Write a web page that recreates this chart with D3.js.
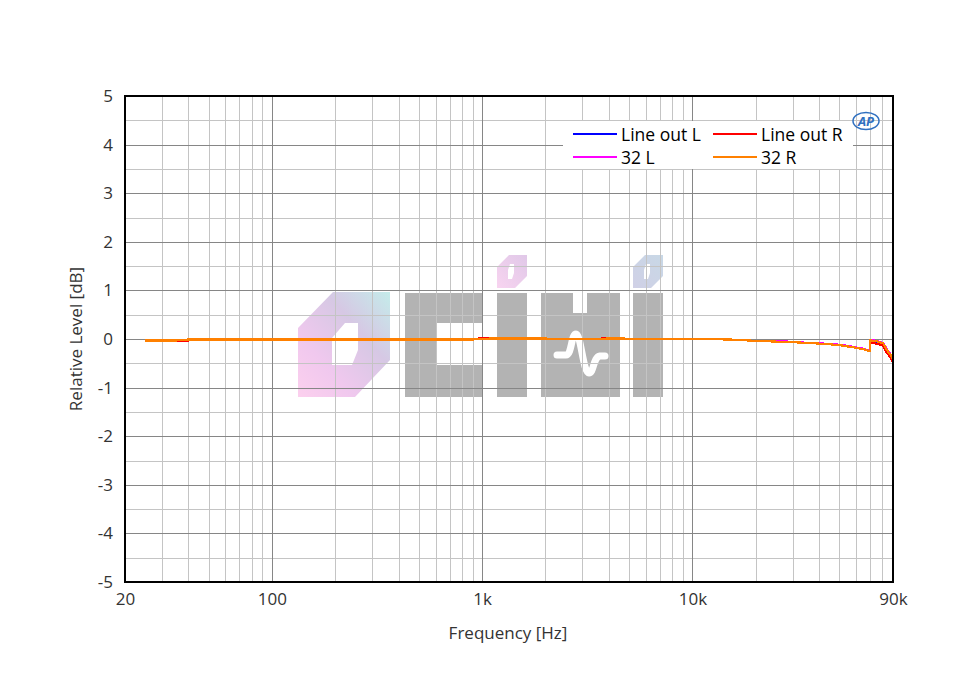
<!DOCTYPE html>
<html><head><meta charset="utf-8">
<script src="https://cdn.jsdelivr.net/npm/d3@7"></script>
<style>body{margin:0;background:#fff}svg text{font-family:"Open Sans","Noto Sans",sans-serif}</style>
</head><body>
<svg id="c" width="960" height="680"></svg>
<script>
// ---- data ----
const freqs = [25,30,35,40,50,100,200,500,900,1000,1100,2000,2200,3500,4000,4500,6000,10000,15000,20300,27600,35500,45200,50700,58100,64900,70000,70300,75700,80800,84100,88800,90000];
const lineOutL = [-0.03,-0.03,-0.04,-0.02,-0.01,-0.01,-0.01,-0.01,-0.01,0.01,0.01,0.01,0.0,0.0,0.01,0.01,0.0,0.0,-0.01,-0.04,-0.06,-0.08,-0.11,-0.13,-0.17,-0.21,-0.25,-0.06,-0.09,-0.12,-0.26,-0.40,-0.46];
const lineOutR = [-0.03,-0.03,-0.05,-0.03,-0.01,-0.01,-0.01,-0.01,-0.01,0.02,0.01,0.01,0.0,0.0,0.02,0.01,0.0,0.0,-0.01,-0.04,-0.06,-0.08,-0.11,-0.13,-0.17,-0.21,-0.25,-0.07,-0.10,-0.14,-0.28,-0.42,-0.48];
const s32L = [-0.03,-0.03,-0.03,-0.01,-0.01,-0.01,-0.01,-0.01,-0.01,0.0,0.01,0.01,0.0,0.0,0.01,0.01,0.0,0.0,-0.01,-0.04,-0.05,-0.08,-0.10,-0.12,-0.16,-0.20,-0.24,-0.02,-0.04,-0.08,-0.21,-0.35,-0.42];
const s32R = [-0.03,-0.03,-0.03,-0.01,-0.01,-0.01,-0.01,-0.01,-0.01,0.0,0.01,0.01,0.0,0.0,0.01,0.01,0.0,0.0,-0.01,-0.04,-0.06,-0.08,-0.11,-0.13,-0.17,-0.21,-0.25,-0.03,-0.05,-0.09,-0.22,-0.36,-0.43];
const seriesNames = ["Line out L","Line out R","32 L","32 R"];
const seriesColors = ["#0000ff","#ff0000","#ff00ff","#ff8000"];
const xTickVals = [20,100,1000,10000,90000];
const xTickLabels = ["20","100","1k","10k","90k"];
const yTickVals = [5,4,3,2,1,0,-1,-2,-3,-4,-5];

const svg = d3.select("#c");
const L=125,R=893,T=96,B=582;
const x = d3.scaleLog().domain([20,90000]).range([L,R]);
const y = d3.scaleLinear().domain([-5,5]).range([B,T]);

// ---- watermark ----
const wm = svg.append("g");
const defs = svg.append("defs");
const g1 = defs.append("linearGradient").attr("id","wg1").attr("x1","0").attr("y1","1").attr("x2","1").attr("y2","0");
g1.append("stop").attr("offset","0").attr("stop-color","#fcd0ee");
g1.append("stop").attr("offset","0.3").attr("stop-color","#f0c8ee");
g1.append("stop").attr("offset","0.65").attr("stop-color","#d6c8e4");
g1.append("stop").attr("offset","1").attr("stop-color","#c4ecea");
const g2 = defs.append("linearGradient").attr("id","wg2").attr("x1","0").attr("y1","1").attr("x2","1").attr("y2","0");
g2.append("stop").attr("offset","0").attr("stop-color","#f8d4f0");
g2.append("stop").attr("offset","1").attr("stop-color","#e0c8e8");
const g3 = defs.append("linearGradient").attr("id","wg3").attr("x1","0").attr("y1","1").attr("x2","1").attr("y2","0");
g3.append("stop").attr("offset","0").attr("stop-color","#d0d0e6");
g3.append("stop").attr("offset","1").attr("stop-color","#c8d8e6");
wm.append("path").attr("fill","url(#wg1)").attr("fill-rule","evenodd")
  .attr("d","M333,292 L390,292 L390,360 L355,397 L298,397 L298,328 Z M345,323 L358,323 L358,350 L352,365 L332,365 L332,338 Z");
wm.append("path").attr("fill","#b3b3b3")
  .attr("d","M405,293 L483,293 L483,323 L437,323 L437,365 L483,365 L483,397 L405,397 Z");
wm.append("rect").attr("x",497).attr("y",293).attr("width",30).attr("height",104).attr("fill","#b3b3b3");
wm.append("path").attr("fill","url(#wg2)").attr("fill-rule","evenodd")
  .attr("d","M509,255 L527,255 L527,276 L515,288 L497,288 L497,267 Z M510,264 L514,264 L514,273 L512,279 L508,279 L508,270 Z");
wm.append("path").attr("fill","#b3b3b3")
  .attr("d","M541,293 L573,293 L573,313 L587,313 L587,293 L620,293 L620,397 L541,397 Z");
wm.append("path").attr("fill","none").attr("stroke","#fff").attr("stroke-width",7).attr("stroke-linecap","round").attr("stroke-linejoin","round")
  .attr("d","M557,355 L566,355 C572,355 571,334 576,334 C581,334 583,373 589,373 C594,373 593,357 600,356 L605,356");
wm.append("rect").attr("x",633).attr("y",293).attr("width",30).attr("height",104).attr("fill","#b3b3b3");
wm.append("path").attr("fill","url(#wg3)").attr("fill-rule","evenodd")
  .attr("d","M645,255 L663,255 L663,276 L651,288 L633,288 L633,267 Z M646,264 L650,264 L650,273 L648,279 L644,279 L644,270 Z");

// ---- grid ----
const grid = svg.append("g");
const minorX = [];
[10,100,1000,10000].forEach(d=>{for(let k=2;k<=9;k++){const v=d*k; if(v>20&&v<90000&&![100,1000,10000].includes(v)) minorX.push(v);}});
grid.selectAll(".mx").data(minorX).enter().append("line")
  .attr("x1",d=>Math.round(x(d))+0.5).attr("x2",d=>Math.round(x(d))+0.5).attr("y1",T).attr("y2",B)
  .attr("stroke","#c4c4c4").attr("stroke-width",1);
const minorY = d3.range(-4.5,5,1);
grid.selectAll(".my").data(minorY).enter().append("line")
  .attr("y1",d=>Math.round(y(d))+0.5).attr("y2",d=>Math.round(y(d))+0.5).attr("x1",L).attr("x2",R)
  .attr("stroke","#c4c4c4").attr("stroke-width",1);
grid.selectAll(".Mx").data([100,1000,10000]).enter().append("line")
  .attr("x1",d=>Math.round(x(d))+0.5).attr("x2",d=>Math.round(x(d))+0.5).attr("y1",T).attr("y2",B)
  .attr("stroke","#868686").attr("stroke-width",1);
grid.selectAll(".My").data(yTickVals.filter(v=>v!==5&&v!==-5)).enter().append("line")
  .attr("y1",d=>Math.round(y(d))+0.5).attr("y2",d=>Math.round(y(d))+0.5).attr("x1",L).attr("x2",R)
  .attr("stroke","#868686").attr("stroke-width",1);

// ---- series ----
const allSeries = [lineOutL,lineOutR,s32L,s32R];
const line = d3.line().x((d,i)=>x(freqs[i])).y(d=>y(d));
allSeries.forEach((s,i)=>{
  svg.append("path").datum(s).attr("d",line).attr("fill","none")
    .attr("stroke",seriesColors[i]).attr("stroke-width",2.2).attr("shape-rendering","crispEdges");
});

// ---- frame ----
svg.append("rect").attr("x",L).attr("y",T).attr("width",R-L).attr("height",B-T)
  .attr("fill","none").attr("stroke","#000").attr("stroke-width",2);

// ---- axes labels ----
const xa = svg.append("g").attr("transform",`translate(0,${B})`)
  .call(d3.axisBottom(x).tickValues(xTickVals).tickFormat((d,i)=>xTickLabels[i]).tickSize(0).tickPadding(11));
xa.select(".domain").remove();
xa.selectAll("text").attr("font-size",17).attr("fill","#333");
const ya = svg.append("g").attr("transform",`translate(${L},0)`)
  .call(d3.axisLeft(y).tickValues(yTickVals).tickFormat(d=>d<0?"-"+Math.abs(d):String(d)).tickSize(0).tickPadding(12));
ya.select(".domain").remove();
ya.selectAll("text").attr("font-size",17).attr("fill","#333");

svg.append("text").attr("x",508).attr("y",639).attr("text-anchor","middle")
  .attr("font-size",17).attr("fill","#333").text("Frequency [Hz]");
svg.append("text").attr("transform","translate(82,339) rotate(-90)").attr("text-anchor","middle")
  .attr("font-size",17).attr("fill","#333").text("Relative Level [dB]");

// ---- legend ----
const lg = svg.append("g");
lg.append("rect").attr("x",563).attr("y",121).attr("width",290).attr("height",48).attr("fill","#fff");
const lpos = [[573,134],[713,134],[573,157],[713,157]];
seriesNames.forEach((n,i)=>{
  const [lx,ly]=lpos[i];
  lg.append("line").attr("x1",lx).attr("x2",lx+44).attr("y1",ly).attr("y2",ly)
    .attr("stroke",seriesColors[i]).attr("stroke-width",2);
  lg.append("text").attr("x",lx+48).attr("y",ly+7).attr("font-size",17.5).attr("fill","#000").text(n);
});

// ---- AP logo ----
const ap = svg.append("g");
ap.append("ellipse").attr("cx",866).attr("cy",121).attr("rx",13).attr("ry",8.5)
  .attr("fill","none").attr("stroke","#3070c0").attr("stroke-width",1.5);
ap.append("text").attr("x",866).attr("y",126).attr("text-anchor","middle").attr("font-size",13)
  .attr("font-style","italic").attr("font-weight","bold").attr("fill","#3070c0").text("AP");
</script>
</body></html>
